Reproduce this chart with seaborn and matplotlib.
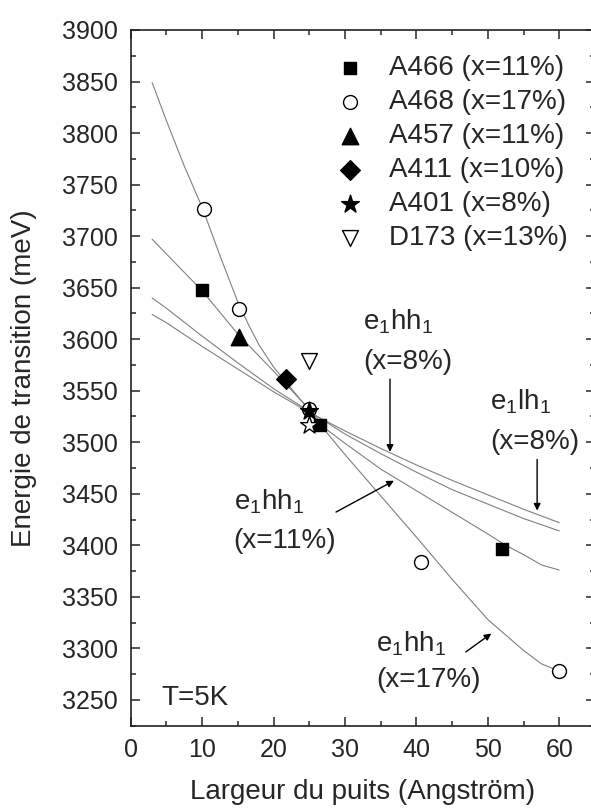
import numpy as np
import pandas as pd
import matplotlib
matplotlib.use('Agg')
import matplotlib.pyplot as plt
import seaborn as sns
from matplotlib.ticker import MultipleLocator

# points mesures (largeur en A, energie en meV)
a466_x = [10.0, 26.5, 52.0]
a466_y = [3648, 3517, 3396]
a468_x = [10.3, 15.2, 25.0, 40.6, 60.0]
a468_y = [3726, 3629, 3532, 3384, 3278]
a457_x = [15.2]
a457_y = [3602]
a411_x = [21.8]
a411_y = [3561]
a401_x = [25.0]
a401_y = [3530]
a401b_x = [24.9]   # etoile vide, sans legende
a401b_y = [3517]
d173_x = [25.0]
d173_y = [3579]

# courbes calculees
c17_x = [3, 5, 7.5, 10, 12.5, 15, 16.5, 18, 20, 22.5, 25, 27.5, 30, 35, 40, 45, 50, 55, 57.5, 60]
c17_y = [3849, 3812, 3768, 3728, 3681, 3636, 3614, 3594, 3573, 3552, 3531, 3509, 3488,
         3448, 3408, 3367, 3328, 3298, 3285, 3278]
c11_x = [3, 10, 15, 20, 25, 27.5, 30, 35, 40, 45, 50, 52.5, 55, 57.5, 60]
c11_y = [3697, 3647, 3605, 3569, 3532, 3512, 3499, 3474, 3453, 3432, 3411, 3400,
         3391, 3381, 3376]
c8hh_x = [3, 5, 10, 15, 20, 25, 30, 35, 40, 45, 50, 55, 60]
c8hh_y = [3640, 3630, 3603, 3577, 3552, 3530, 3508, 3489, 3471, 3454, 3440, 3426, 3414]
c8lh_x = [3, 5, 10, 15, 20, 25, 30, 35, 40, 45, 50, 55, 60]
c8lh_y = [3624, 3616, 3593, 3571, 3549, 3529, 3511, 3494, 3478, 3463, 3449, 3435, 3422]

sns.set_style('ticks')
plt.rcParams['font.family'] = ['Liberation Sans', 'DejaVu Sans']
plt.rcParams['mathtext.default'] = 'regular'
plt.rcParams['xtick.direction'] = 'in'
plt.rcParams['ytick.direction'] = 'in'

fig = plt.figure(figsize=(5.91, 8.08), dpi=100)
ax = fig.add_axes([130.7/591, 82.3/808, 464.3/591, 695.7/808])

for cx, cy in [(c17_x, c17_y), (c11_x, c11_y), (c8hh_x, c8hh_y), (c8lh_x, c8lh_y)]:
    sns.lineplot(x=cx, y=cy, ax=ax, color='#808080', lw=0.8, sort=False, estimator=None)

kw = dict(ax=ax, linewidth=1.0, edgecolor='black', zorder=5)
sns.scatterplot(x=a466_x, y=a466_y, marker='s', s=85, color='black', label='A466 (x=11%)', **kw)
sns.scatterplot(x=a468_x, y=a468_y, marker='o', s=100, color='white', label='A468 (x=17%)', **kw)
sns.scatterplot(x=a457_x, y=a457_y, marker='^', s=140, color='black', label='A457 (x=11%)', **kw)
sns.scatterplot(x=a411_x, y=a411_y, marker='D', s=100, color='black', label='A411 (x=10%)', **kw)
sns.scatterplot(x=a401_x, y=a401_y, marker='*', s=180, color='black', label='A401 (x=8%)', **kw)
sns.scatterplot(x=d173_x, y=d173_y, marker='v', s=130, color='white', label='D173 (x=13%)', **kw)
sns.scatterplot(x=a401b_x, y=a401b_y, marker='*', s=180, color='white', legend=False, **kw)

ax.set_xlim(0, 65)
ax.set_ylim(3225, 3900)
ax.xaxis.set_major_locator(MultipleLocator(10))
ax.xaxis.set_minor_locator(MultipleLocator(5))
ax.yaxis.set_major_locator(MultipleLocator(50))
ax.yaxis.set_minor_locator(MultipleLocator(25))
ax.tick_params(which='both', top=True, right=True, labelsize=18, width=1.1)
ax.tick_params(which='major', length=6.5, pad=9)
ax.tick_params(which='minor', length=3.5)
for sp in ax.spines.values():
    sp.set_linewidth(1.2)
    sp.set_color('#222222')

fs = 20
ax.set_xlabel('Largeur du puits (Angström)', fontsize=fs, labelpad=12)
ax.set_ylabel('Energie de transition (meV)', fontsize=fs, labelpad=18)

ax.text(32.5, 3609, 'e$_1$hh$_1$', fontsize=fs)
ax.text(32.5, 3571, '(x=8%)', fontsize=fs)
ax.annotate('', xy=(36.3, 3488), xytext=(36.3, 3564),
            arrowprops=dict(arrowstyle='-|>', color='black', lw=1.0, mutation_scale=10))
ax.text(50.3, 3532, 'e$_1$lh$_1$', fontsize=fs)
ax.text(50.3, 3493, '(x=8%)', fontsize=fs)
ax.annotate('', xy=(56.9, 3431), xytext=(56.9, 3486),
            arrowprops=dict(arrowstyle='-|>', color='black', lw=1.0, mutation_scale=10))
ax.text(14.4, 3435, 'e$_1$hh$_1$', fontsize=fs)
ax.text(14.4, 3397, '(x=11%)', fontsize=fs)
ax.annotate('', xy=(37.2, 3464), xytext=(28.4, 3431),
            arrowprops=dict(arrowstyle='-|>', color='black', lw=1.0, mutation_scale=10))
ax.text(34.4, 3297, 'e$_1$hh$_1$', fontsize=fs)
ax.text(34.4, 3263, '(x=17%)', fontsize=fs)
ax.annotate('', xy=(50.8, 3316), xytext=(46.6, 3295),
            arrowprops=dict(arrowstyle='-|>', color='black', lw=1.0, mutation_scale=10))
ax.text(4.3, 3245, 'T=5K', fontsize=fs)

ax.legend(loc='upper left', bbox_to_anchor=(0.418, 0.98), frameon=False, fontsize=fs,
          handlelength=1.0, handletextpad=0.9, labelspacing=0.29, borderaxespad=0)

fig.savefig('out.png', dpi=100)
